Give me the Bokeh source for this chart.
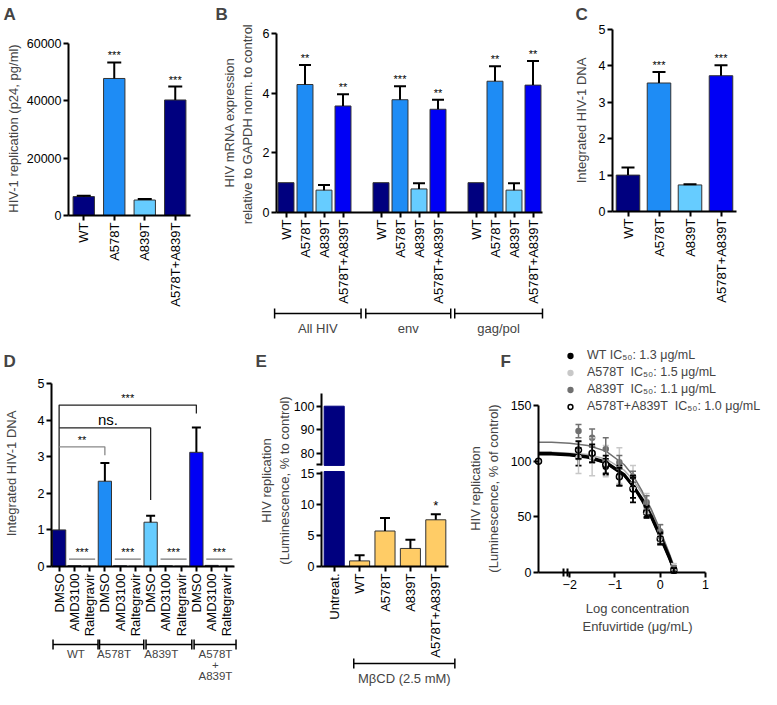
import math
from bokeh.plotting import figure
from bokeh.models import (Range1d, FixedTicker, Whisker, TeeHead, Label, Legend,
                          LegendItem, LinearAxis, ColumnDataSource)
from bokeh.layouts import row, column
from bokeh.embed import file_html
from bokeh.resources import INLINE
from bokeh.core.properties import value

FONT = "Liberation Sans"
NAVY = "#00007F"
MID = "#1E8CF5"
LIGHT = "#66CCFF"
BLUE = "#0000F5"
ORANGE = "#FFCC66"
OUTL = "#333333"

# ---------------- data ----------------
# A
a_labels = ["WT", "A578T", "A839T", "A578T+A839T"]
a_values = [6600, 47800, 5400, 40300]
a_errors = [300, 5600, 350, 4700]
a_sig = ["", "***", "", "***"]
# B
b_groups = ["All HIV", "env", "gag/pol"]
b_labels = ["WT", "A578T", "A839T", "A578T+A839T"]
b_all_hiv = [1.0, 4.29, 0.75, 3.57]
b_all_hiv_err = [0.0, 0.65, 0.17, 0.39]
b_env = [1.0, 3.78, 0.79, 3.46]
b_env_err = [0.0, 0.45, 0.19, 0.32]
b_gagpol = [1.0, 4.40, 0.75, 4.27]
b_gagpol_err = [0.0, 0.50, 0.23, 0.81]
b_sig = [["", "**", "", "**"], ["", "***", "", "**"], ["", "**", "", "**"]]
# C
c_labels = ["WT", "A578T", "A839T", "A578T+A839T"]
c_values = [1.0, 3.53, 0.73, 3.73]
c_errors = [0.21, 0.30, 0.02, 0.29]
c_sig = ["", "***", "", "***"]
# D
d_groups = ["WT", "A578T", "A839T", "A578T\n+\nA839T"]
d_treat = ["DMSO", "AMD3100", "Raltegravir"]
d_values = [1.0, 0.02, 0.01, 2.33, 0.02, 0.01, 1.21, 0.02, 0.01, 3.12, 0.03, 0.01]
d_errors = [0.0, 0.0, 0.0, 0.50, 0.0, 0.0, 0.18, 0.0, 0.0, 0.68, 0.0, 0.0]
# E
e_labels = ["Untreat.", "WT", "A578T", "A839T", "A578T+A839T"]
e_values = [100, 0.9, 5.7, 2.9, 7.5]
e_errors = [0.0, 0.9, 2.1, 1.4, 0.9]
e_sig = ["", "", "", "", "*"]
e_group = "M\u03b2CD (2.5 mM)"
# F
f_logc = [-1.806, -1.505, -1.204, -0.903, -0.602, -0.301, 0.0, 0.301]
f_wt = [104, 106, 95, 87, 76, 55, 31, 2]
f_wt_err = [8, 7, 7, 9, 9, 5, 5, 2]
f_a578t = [103, 104, 100, 96, 86, 62, 35, 5]
f_a578t_err = [14, 17, 14, 16, 10, 9, 8, 3]
f_a839t = [127, 121, 111, 99, 86, 63, 37, 4]
f_a839t_err = [6, 8, 10, 6, 5, 6, 6, 2]
f_combo = [110, 107, 97, 86, 75, 54, 30, 2]
f_combo_err = [8, 8, 8, 8, 12, 5, 5, 2]
f_ctrl_x = -2.69
f_ctrl_y = 100
f_fit_x = [-2.69, -2.4, -2.0, -1.6, -1.2, -0.8, -0.6, -0.4, -0.2, 0.0, 0.2, 0.3]
f_fit_wt = [107, 107, 106, 104, 99, 88, 78, 66, 51, 33, 14, 3]
f_fit_a578t = [108, 108, 107, 106, 102, 92, 83, 71, 56, 37, 16, 5]
f_fit_a839t = [117, 117, 116, 114, 109, 97, 87, 73, 57, 38, 17, 6]
f_fit_combo = [106, 106, 105, 103, 98, 87, 77, 64, 49, 31, 12, 2]
f_names = ["WT IC\u2085\u2080: 1.3 \u03bcg/mL", "A578T  IC\u2085\u2080: 1.5 \u03bcg/mL",
           "A839T  IC\u2085\u2080: 1.1 \u03bcg/mL", "A578T+A839T  IC\u2085\u2080: 1.0 \u03bcg/mL"]


# ---------------- helpers ----------------
def px2x(g, px):
    return g["xr"][0] + (px - g["l"]) / (g["r"] - g["l"]) * (g["xr"][1] - g["xr"][0])


def px2y(g, py):
    yr = g["yr"]
    return yr[0] + (g["b"] - py) / (g["b"] - g["t"]) * (yr[1] - yr[0])


def make(ox, oy, w, h, l, t, r, b, xr, yr):
    g = dict(ox=ox, oy=oy, w=w, h=h, l=l, t=t, r=r, b=b, xr=xr, yr=yr)
    fx = (px2x(g, ox), px2x(g, ox + w))
    fy = (px2y(g, oy + h), px2y(g, oy))
    p = figure(width=w, height=h, x_range=Range1d(*fx), y_range=Range1d(*fy),
               min_border=0, min_border_left=0, min_border_right=0,
               min_border_top=0, min_border_bottom=0,
               output_backend="svg", toolbar_location=None)
    p.outline_line_color = None
    p.grid.visible = False
    p.xaxis[0].fixed_location = yr[0]
    p.xaxis[0].bounds = xr
    p.yaxis[0].fixed_location = xr[0]
    p.yaxis[0].bounds = yr
    return p, g


def style(p):
    for ax in p.axis:
        ax.axis_line_width = 2
        ax.major_tick_line_width = 2
        ax.major_tick_in = 0
        ax.major_tick_out = 5
        ax.minor_tick_line_color = None
        ax.major_label_text_font = FONT
        ax.major_label_text_font_size = "12.5px"
        ax.major_label_text_color = "black"
        ax.major_label_standoff = 2


def cat_axis(p, xs, labels):
    ax = p.xaxis[0]
    ax.ticker = FixedTicker(ticks=list(xs))
    ax.major_label_overrides = {x: lab for x, lab in zip(xs, labels)}
    ax.major_label_orientation = math.pi / 2
    ax.major_label_text_font_size = "13px"


def errbars(p, xs, vals, errs, cap, lw=2, color="black", both=False):
    sel = [i for i, e in enumerate(errs) if e > 0]
    src = ColumnDataSource(dict(x=[xs[i] for i in sel],
                                lo=[(vals[i] - errs[i]) if both else vals[i] for i in sel],
                                hi=[vals[i] + errs[i] for i in sel]))
    p.add_layout(Whisker(source=src, base="x", lower="lo", upper="hi", dimension="height",
                         line_color=color, line_width=lw, level="annotation",
                         upper_head=TeeHead(size=cap, line_width=lw, line_color=color),
                         lower_head=TeeHead(size=cap, line_width=lw, line_color=color) if both else None))


def stars(p, xs, vals, errs, sig, size="11px"):
    sel = [i for i, s in enumerate(sig) if s]
    p.text(x=[xs[i] for i in sel], y=[vals[i] + errs[i] for i in sel], text=[sig[i] for i in sel],
           text_font=value(FONT), text_font_size=size, text_align="center",
           text_baseline="bottom", y_offset=-1, text_color="black")


def letter(p, g, ch, ix, iy):
    p.add_layout(Label(x=px2x(g, ix), y=px2y(g, iy), text=ch, text_font=FONT,
                       text_font_size="17px", text_font_style="bold",
                       text_baseline="top", text_align="left"))


def title_lbl(p, g, txt, cx, cy, vertical=True):
    p.add_layout(Label(x=px2x(g, cx), y=px2y(g, cy), text=txt, text_font=FONT,
                       text_font_size="13px", text_align="center", text_baseline="middle",
                       angle=(math.pi / 2 if vertical else 0), text_line_height=1.25))


def bracket(p, base, lowers, uppers, head=10):
    src = ColumnDataSource(dict(b=[base] * len(lowers), lo=lowers, hi=uppers))
    p.add_layout(Whisker(source=src, base="b", lower="lo", upper="hi", dimension="width",
                         line_color="black", line_width=1.5, level="annotation",
                         upper_head=TeeHead(size=head, line_width=1.5),
                         lower_head=TeeHead(size=head, line_width=1.5)))


def text_label(p, x, y, txt, baseline="middle", lh=1.2, size="13px"):
    p.add_layout(Label(x=x, y=y, text=txt, text_font=FONT, text_font_size=size,
                       text_align="center", text_baseline=baseline, text_line_height=lh))


# ---------------- A ----------------
pA, gA = make(0, 0, 200, 338, 68, 43, 190, 215, (-0.5, 3.5), (0, 60000))
xa = list(range(len(a_labels)))
pA.vbar(x=xa, top=a_values, width=0.7, fill_color=[NAVY, MID, LIGHT, NAVY],
        line_color=OUTL, line_width=1)
errbars(pA, xa, a_values, a_errors, 14)
stars(pA, xa, a_values, a_errors, a_sig)
style(pA)
cat_axis(pA, xa, a_labels)
pA.yaxis[0].ticker = FixedTicker(ticks=[0, 20000, 40000, 60000])
title_lbl(pA, gA, "HIV-1 replication (p24, pg/ml)", 13, 128)
letter(pA, gA, "A", 3, 4)

# ---------------- B ----------------
pB, gB = make(200, 0, 357, 338, 276, 33, 542, 212, (-0.5, 13.5), (0, 6))
b_sets = [(b_all_hiv, b_all_hiv_err), (b_env, b_env_err), (b_gagpol, b_gagpol_err)]
xb_all, lb_all = [], []
for gi, (vals, errs) in enumerate(b_sets):
    xb = [gi * 5 + i for i in range(len(b_labels))]
    xb_all += xb
    lb_all += b_labels
    pB.vbar(x=xb, top=vals, width=0.84, fill_color=[NAVY, MID, LIGHT, BLUE],
            line_color=OUTL, line_width=1)
    errbars(pB, xb, vals, errs, 12)
    stars(pB, xb, vals, errs, b_sig[gi])
style(pB)
cat_axis(pB, xb_all, lb_all)
pB.yaxis[0].ticker = FixedTicker(ticks=[0, 2, 4, 6])
title_lbl(pB, gB, "HIV mRNA expression\nrelative to GAPDH  norm. to control", 238, 122)
b_lo = [-0.6, 4.2, 8.88]
b_hi = [3.95, 8.67, 13.5]
bracket(pB, px2y(gB, 313), b_lo, b_hi)
for name, lo, hi in zip(b_groups, b_lo, b_hi):
    text_label(pB, (lo + hi) / 2, px2y(gB, 328), name)
letter(pB, gB, "B", 215, 4)

# ---------------- C ----------------
pC, gC = make(557, 0, 204, 338, 612, 29, 736, 211, (-0.5, 3.5), (0, 5))
xc = list(range(len(c_labels)))
pC.vbar(x=xc, top=c_values, width=0.76, fill_color=[NAVY, MID, LIGHT, BLUE],
        line_color=OUTL, line_width=1)
errbars(pC, xc, c_values, c_errors, 13)
stars(pC, xc, c_values, c_errors, c_sig)
style(pC)
cat_axis(pC, xc, c_labels)
pC.yaxis[0].ticker = FixedTicker(ticks=[0, 1, 2, 3, 4, 5])
title_lbl(pC, gC, "Integrated HIV-1 DNA", 581, 120)
letter(pC, gC, "C", 575, 4)

# ---------------- D ----------------
pD, gD = make(0, 338, 255, 351, 51, 383, 234, 566, (-0.5, 11.5), (0, 5))
xd = list(range(len(d_values)))
grp_cols = [NAVY, MID, LIGHT, BLUE]
d_cols = [grp_cols[i // 3] for i in xd]
pD.vbar(x=xd, top=d_values, width=0.87, fill_color=d_cols, line_color=OUTL, line_width=1)
errbars(pD, xd, d_values, d_errors, 9)
pD.multi_line(xs=[[0, 0, 9, 9], [0, 6, 6]], ys=[[1.0, 4.41, 4.41, 4.18], [3.79, 3.79, 1.82]],
              line_color="#222222", line_width=1.3)
pD.multi_line(xs=[[0, 3, 3]], ys=[[3.27, 3.27, 3.04]], line_color="#888888", line_width=1.3)
pD.text(x=[4.5, 1.5], y=[4.41, 3.27], text=["***", "**"], text_font=value(FONT),
        text_font_size="11px", text_align="center", text_baseline="bottom", y_offset=-1)
pD.text(x=[3.2], y=[3.79], text=["ns."], text_font=value(FONT), text_font_size="15px",
        text_align="center", text_baseline="bottom", y_offset=0)
inh_xs = [[3 * k + 0.65, 3 * k + 2.36] for k in range(4)]
pD.multi_line(xs=inh_xs, ys=[[0.2, 0.2]] * 4, line_color="#777777", line_width=1.3)
pD.text(x=[3 * k + 1.5 for k in range(4)], y=[0.2] * 4, text=["***"] * 4, text_font=value(FONT),
        text_font_size="11px", text_align="center", text_baseline="bottom", y_offset=-1)
style(pD)
cat_axis(pD, xd, d_treat * 4)
pD.yaxis[0].ticker = FixedTicker(ticks=[0, 1, 2, 3, 4, 5])
title_lbl(pD, gD, "Integrated HIV-1 DNA", 11, 473)
d_lo = [-0.4, 2.65, 5.7, 8.85]
d_hi = [2.55, 5.55, 8.7, 11.6]
bracket(pD, px2y(gD, 644), d_lo, d_hi)
d_lab_x = [1.1, 3.6, 6.7, 10.25]
for name, xx in zip(d_groups, d_lab_x):
    text_label(pD, xx, px2y(gD, 647), name, baseline="top", lh=0.95, size="11.5px")
letter(pD, gD, "D", 3, 351)

# ---------------- E ----------------
pE, gE = make(255, 338, 208, 351, 321, 393, 448, 566, (-0.5, 4.5), (0, 27.78))
E_PX100, E_SCALE = 405.7, 2.35   # upper segment: pixel of 100 and px per unit
E_HI = (100 - (338 + 351 - E_PX100) / E_SCALE, 100 + (E_PX100 - 338) / E_SCALE)
pE.extra_y_ranges = {"hi": Range1d(*E_HI)}
xe = list(range(len(e_labels)))
E_BREAK_LO = 15.25
E_BREAK_HI = 74.8
E_TOP = 100 + (E_PX100 - 393) / E_SCALE
pE.vbar(x=[xe[0]], bottom=[E_BREAK_HI], top=[e_values[0]], width=0.79, fill_color=NAVY,
        line_color=NAVY, line_width=1, y_range_name="hi")
pE.vbar(x=[xe[0]], top=[E_BREAK_LO], width=0.79, fill_color=NAVY, line_color=NAVY, line_width=1)
pE.vbar(x=xe[1:], top=e_values[1:], width=0.79, fill_color=ORANGE, line_color=OUTL, line_width=1)
errbars(pE, xe[1:], e_values[1:], e_errors[1:], 10)
stars(pE, xe, e_values, e_errors, e_sig, size="13px")
ax_hi = LinearAxis(y_range_name="hi", bounds=(E_BREAK_HI, E_TOP),
                   ticker=FixedTicker(ticks=[80, 90, 100], minor_ticks=[E_BREAK_HI + 0.3]),
                   fixed_location=-0.5)
pE.add_layout(ax_hi, "left")
style(pE)
ax_hi.minor_tick_line_color = "black"
ax_hi.minor_tick_line_width = 2
ax_hi.minor_tick_out = 5
ax_hi.minor_tick_in = 0
cat_axis(pE, xe, e_labels)
pE.yaxis[0].ticker = FixedTicker(ticks=[0, 5, 10, 15])
pE.yaxis[0].bounds = (0, E_BREAK_LO)
title_lbl(pE, gE, "HIV replication\n(Luminescence, % to control)", 275, 480)
e_lo, e_hi = 0.77, 4.75
bracket(pE, px2y(gE, 663), [e_lo], [e_hi])
text_label(pE, (e_lo + e_hi) / 2, px2y(gE, 678), e_group)
letter(pE, gE, "E", 255, 351)

# ---------------- F ----------------
pF, gF = make(463, 338, 298, 351, 538, 405, 705, 572, (-2.69, 1.0), (0, 150))
series = [(f_wt, f_wt_err, f_fit_wt, "black", "black", 5, 3.0),
          (f_a578t, f_a578t_err, f_fit_a578t, "#C8C8C8", "#C8C8C8", 5, 1.5),
          (f_a839t, f_a839t_err, f_fit_a839t, "#707070", "#707070", 5, 1.5),
          (f_combo, f_combo_err, f_fit_combo, "white", "black", 6, 2.0)]
for vals, errs, fit, fc, lc, sz, lw in [series[1], series[2], series[0], series[3]]:
    pF.line(f_fit_x, fit, line_color=(lc if lc != "#C8C8C8" else "#B0B0B0"), line_width=lw)
items = []
for (vals, errs, fit, fc, lc, sz, lw), name in zip(series, f_names):
    errbars(pF, f_logc, vals, errs, 6, lw=1.8 if lc == "black" else 1.5, color=lc, both=True)
    r = pF.scatter(f_logc, vals, marker="circle", size=sz, fill_color=fc, line_color=lc,
                   line_width=1.5)
    items.append(LegendItem(label=name, renderers=[r]))
pF.scatter([f_ctrl_x], [f_ctrl_y], marker="circle", size=6, fill_color="white",
           line_color="black", line_width=1.5)
legend = Legend(items=items, location=(101, 274.5), glyph_width=12, glyph_height=17,
                label_height=17, label_standoff=11, spacing=0, padding=0, margin=0,
                border_line_color=None, background_fill_alpha=0,
                label_text_font=FONT, label_text_font_size="12.5px")
pF.add_layout(legend)
style(pF)
pF.xaxis[0].ticker = FixedTicker(ticks=[-2, -1, 0, 1], minor_ticks=[-2.13, -2.04])
pF.xaxis[0].minor_tick_line_color = "black"
pF.xaxis[0].minor_tick_line_width = 2
pF.xaxis[0].minor_tick_in = 4
pF.xaxis[0].minor_tick_out = 4
pF.yaxis[0].ticker = FixedTicker(ticks=[0, 50, 100, 150])
title_lbl(pF, gF, "HIV replication\n(Luminescence, % of control)", 484, 488)
title_lbl(pF, gF, "Log concentration\nEnfuvirtide (\u03bcg/mL)", 637, 617, vertical=False)
letter(pF, gF, "F", 500, 351)

layout = column(row(pA, pB, pC), row(pD, pE, pF))
open("out.html", "w").write(file_html(layout, INLINE))
